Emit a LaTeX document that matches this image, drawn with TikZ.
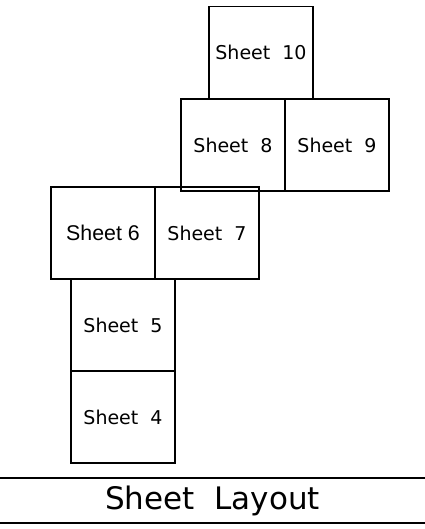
\documentclass[tikz,border=0pt]{standalone}
\usepackage{fontspec}
\newfontfamily\cadfont{DejaVu Sans}
\newfontfamily\arialfont{Liberation Sans}
\usetikzlibrary{positioning}

\begin{document}
\begin{tikzpicture}[x=0.75pt, y=-0.75pt, node distance=0pt, line width=1.2pt,
    sheet/.style = {draw, rectangle, inner sep=0pt, outer sep=0pt, minimum width=78pt, minimum height=69pt, font=\cadfont\fontsize{14.25}{17}\selectfont},
    band/.style = {inner sep=0pt, outer sep=0pt, minimum width=318.75pt, minimum height=33.75pt, font=\cadfont\fontsize{23.25}{28}\selectfont}]
    \useasboundingbox (0,0) rectangle (425,529);

    \node[sheet] (s10) at (261,52.5) {Sheet\ \ 10};
    \node[sheet] (s8) at (233,145) {Sheet\ \ 8};
    \node[sheet] (s9) [right=of s8] {Sheet\ \ 9};

    \node[sheet, font=\arialfont\fontsize{16}{19}\selectfont] (s6) at (103,233) {Sheet 6};
    \node[sheet] (s7) [right=of s6] {Sheet\ \ 7};

    \node[sheet] (s5) at (123,325) {Sheet\ \ 5};
    \node[sheet] (s4) [below=of s5] {Sheet\ \ 4};

    \node[band] (title) at (212.5,500.5) {Sheet\ \ Layout};
    \draw (title.north west) -- (title.north east);
    \draw (title.south west) -- (title.south east);

\end{tikzpicture}
\end{document}
